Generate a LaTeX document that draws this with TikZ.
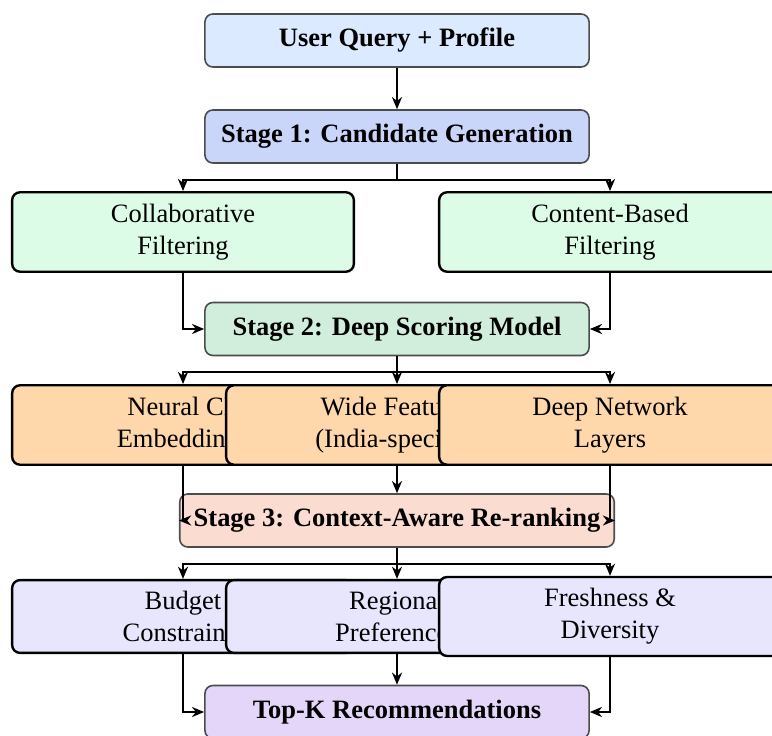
\documentclass[tikz,border=0pt]{standalone}
\usepackage{fontspec}
\setmainfont{Liberation Serif}
\usetikzlibrary{arrows.meta}
\definecolor{cuq}{HTML}{DBEAFE}
\definecolor{cs1}{HTML}{C9D5F9}
\definecolor{cgr}{HTML}{DCFCE7}
\definecolor{cs2}{HTML}{D1EEDD}
\definecolor{cor}{HTML}{FED7AA}
\definecolor{cs3}{HTML}{FADCD0}
\definecolor{cbu}{HTML}{E8E6FC}
\definecolor{ctk}{HTML}{E3D6F8}
\tikzset{
  stagebox/.style={draw=black!70, line width=0.6pt, rounded corners=3pt, align=center,
    font=\bfseries, minimum width=145pt, minimum height=20pt, inner sep=2pt},
  subbox/.style={draw=black, line width=0.9pt, rounded corners=3pt, align=center,
    minimum width=129pt, minimum height=30pt, inner sep=2pt},
  arr/.style={-{Stealth[length=4.6pt,width=3.8pt]}, line width=0.75pt},
  ln/.style={line width=0.75pt}
}
\begin{document}
\begin{tikzpicture}[x=0.3775pt,y=-0.3775pt]
\useasboundingbox (0,0) rectangle (772,736);
\node[stagebox, fill=cuq] (uq) at (397,40.5) {User Query + Profile};
\node[stagebox, fill=cs1] (s1) at (397,136.5) {Stage 1: Candidate Generation};
\node[subbox, fill=cgr] (cf) at (183,232) {Collaborative\\Filtering};
\node[subbox, fill=cgr] (cb) at (610,232) {Content-Based\\Filtering};
\node[stagebox, fill=cs2] (s2) at (397,329) {Stage 2: Deep Scoring Model};
\node[subbox, fill=cor] (nc) at (183,425) {Neural CF\\Embeddings};
\node[subbox, fill=cor] (wf) at (397,425) {Wide Features\\(India-specific)};
\node[subbox, fill=cor] (dn) at (610,425) {Deep Network\\Layers};
\node[stagebox, fill=cs3, minimum width=164pt] (s3) at (397,520.5) {Stage 3: Context-Aware Re-ranking};
\node[subbox, fill=cbu, minimum height=27.5pt] (bc) at (183,616.5) {Budget\\Constraints};
\node[subbox, fill=cbu, minimum height=27.5pt] (rp) at (397,616.5) {Regional\\Preferences};
\node[subbox, fill=cbu, minimum height=29.8pt] (fd) at (610,616.5) {Freshness \&\\Diversity};
\node[stagebox, fill=ctk] (tk) at (397,712) {Top-K Recommendations};
\coordinate (j1) at (397,180);
\coordinate (j2) at (397,372);
\coordinate (j3) at (397,564);
\draw[arr] (uq) -- (s1);
\draw[ln] (s1.south) -- (j1);
\draw[arr] (j1) -| (cf.north);
\draw[arr] (j1) -| (cb.north);
\draw[arr] (cf.south) |- (s2.west);
\draw[arr] (cb.south) |- (s2.east);
\draw[ln] (s2.south) -- (j2);
\draw[arr] (j2) -| (nc.north);
\draw[arr] (j2) -- (wf.north);
\draw[arr] (j2) -| (dn.north);
\draw[arr] (nc.south) |- (s3.west);
\draw[arr] (wf.south) -- (s3.north);
\draw[arr] (dn.south) |- (s3.east);
\draw[ln] (s3.south) -- (j3);
\draw[arr] (j3) -| (bc.north);
\draw[arr] (j3) -- (rp.north);
\draw[arr] (j3) -| (fd.north);
\draw[arr] (bc.south) |- (tk.west);
\draw[arr] (rp.south) -- (tk.north);
\draw[arr] (fd.south) |- (tk.east);
\end{tikzpicture}
\end{document}
